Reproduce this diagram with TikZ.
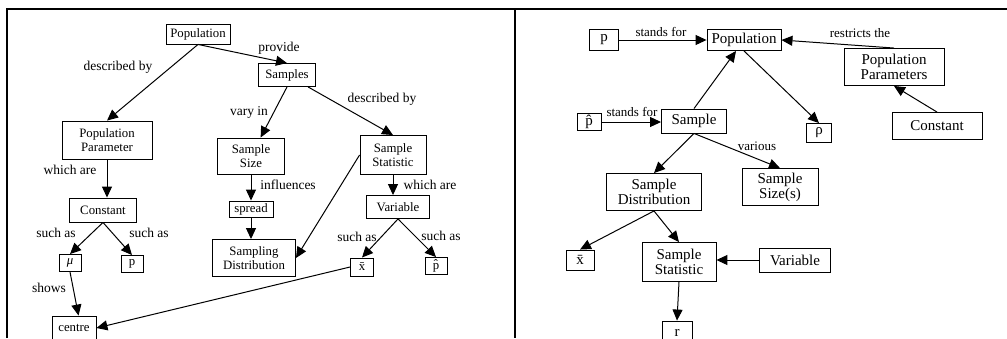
\documentclass[tikz,border=0pt]{standalone}
\usepackage{fontspec}
\setmainfont{Liberation Serif}
\usetikzlibrary{arrows.meta}
\tikzset{
  lbox/.style={draw, line width=0.9pt, inner sep=1pt, align=center, font=\fontsize{12.8}{14}\selectfont},
  rbox/.style={draw, line width=0.9pt, inner sep=1pt, align=center, font=\fontsize{15}{15}\selectfont},
  sz/.style 2 args={minimum width=#1pt, minimum height=#2pt},
  lbl/.style={inner sep=0pt, font=\fontsize{13.5}{14}\selectfont},
  rlbl/.style={inner sep=0pt, font=\fontsize{13}{14}\selectfont},
  arrow/.style={-{Triangle[length=11pt,width=10pt]}, line width=1pt},
  frame/.style={line width=2pt}
}
\begin{document}
\begin{tikzpicture}[x=1pt, y=-1pt]
  \useasboundingbox (0,0) rectangle (1007,338);
  \draw[frame] (7,338) -- (7,9) -- (1007,9);
  \draw[frame] (515,9) -- (515,338);

  % left map
  \node[lbox, sz={64}{20}] (lpop) at (198,34) {Population};
  \node[lbox, sz={57}{23}] (lsamples) at (287,75) {Samples};
  \node[lbox, sz={90}{38}] (lpopparam) at (107,140) {Population\\Parameter};
  \node[lbox, sz={67}{36}] (lsize) at (251,156) {Sample\\Size};
  \node[lbox, sz={66}{39}] (lstat) at (393,155) {Sample\\Statistic};
  \node[lbox, sz={67}{24}] (lconst) at (103,210) {Constant};
  \node[lbox, sz={44}{16}] (lspread) at (251,209) {spread};
  \node[lbox, sz={63}{23}] (lvar) at (398,207) {Variable};
  \node[lbox, sz={83}{37}] (lsampdist) at (254,258) {Sampling\\Distribution};
  \node[lbox, sz={22}{17}] (lmu) at (70,263) {\textit{μ}};
  \node[lbox, sz={22}{17}] (lp) at (132,264) {p};
  \node[lbox, sz={23}{18}] (lxbar) at (362,267) {\={x}};
  \node[lbox, sz={22}{17}] (lphat) at (436,266) {\^{p}};
  \node[lbox, sz={44}{24}] (lcentre) at (74,328) {centre};

  \node[lbl] (tdescr) at (118,67) {described by};
  \node[lbl] (tprov) at (279,48) {provide};
  \node[lbl] (tvary) at (249,112) {vary in};
  \node[lbl] (tdescs) at (382,99) {described by};
  \node[lbl] (twhich) at (70,170) {which are};
  \node[lbl] (tinfl) at (288,185) {influences};
  \node[lbl] (twhichv) at (430,185) {which are};
  \node[lbl] (tsuchmu) at (56,233) {such as};
  \node[lbl] (tsuchp) at (149,233) {such as};
  \node[lbl] (tsuchx) at (357,237) {such as};
  \node[lbl] (tsuchph) at (441,236) {such as};
  \node[lbl] (tshows) at (49,288) {shows};

  \draw[arrow] (lpop.south) -- (lsamples.north);
  \draw[arrow] (lpop.south) -- (lpopparam.north);
  \draw[arrow] (lsamples.south) -- (lsize);
  \draw[arrow] (lsamples) -- (lstat.north);
  \draw[arrow] (lpopparam.south) -- (lpopparam.south |- lconst.north);
  \draw[arrow] (lsize.south) -- (lsize.south |- lspread.north);
  \draw[arrow] (lspread.south) -- (lspread.south |- lsampdist.north);
  \draw[arrow] (lstat.west) -- (lsampdist.east);
  \draw[arrow] (lstat.south) -- (lstat.south |- lvar.north);
  \draw[arrow] (lvar.south) -- (lxbar.north);
  \draw[arrow] (lvar.south) -- (lphat.north);
  \draw[arrow] (lconst.south) -- (lmu.north);
  \draw[arrow] (lconst.south) -- (lp.north);
  \draw[arrow] (lmu.south) -- (lcentre.70);
  \draw[arrow] (lxbar.west) -- (lcentre.east);

  % right map
  \node[rbox, sz={29}{21}] (rp) at (604,40) {p};
  \node[rbox, sz={74}{21}] (rpop) at (744,40) {Population};
  \node[rbox, sz={24}{17}] (rphat) at (589,122) {\^{p}};
  \node[rbox, sz={65}{24}] (rsample) at (694,121) {Sample};
  \node[rbox, sz={100}{37}] (rparams) at (894,67) {Population\\Parameters};
  \node[rbox, sz={90}{27}] (rconst) at (937,126) {Constant};
  \node[rbox, sz={25}{19}] (rrho) at (819,133) {ρ};
  \node[rbox, sz={95}{37}] (rsampdist) at (654,192) {Sample\\Distribution};
  \node[rbox, sz={76}{37}] (rsize) at (780,187) {Sample\\Size(s)};
  \node[rbox, sz={28}{20}] (rxbar) at (580,260) {\={x}};
  \node[rbox, sz={74}{39}] (rstat) at (679,262) {Sample\\Statistic};
  \node[rbox, sz={71}{24}] (rvar) at (795,260) {Variable};
  \node[rbox, sz={30}{24}] (rr) at (677,333) {r};

  \node[rlbl] (tstands) at (661,32) {stands for};
  \node[rlbl] (tstandsh) at (632,112) {stands for};
  \node[rlbl] (trestr) at (860,33) {restricts the};
  \node[rlbl] (tvarious) at (757,146) {various};

  \draw[arrow] (rp.east) -- (rpop.west);
  \draw[arrow] (rphat.east) -- (rphat.east -| rsample.west);
  \draw[arrow] (rsample.north) -- (rpop);
  \draw[arrow] (rpop.south) -- (rrho.north);
  \draw[arrow] (rparams.north) -- (rpop.east);
  \draw[arrow] (rconst.north) -- (rparams.south);
  \draw[arrow] (rsample.south) -- (rsampdist.north);
  \draw[arrow] (rsample.south) -- (rsize.north);
  \draw[arrow] (rsampdist.south) -- (rxbar.north);
  \draw[arrow] (rsampdist.south) -- (rstat.north);
  \draw[arrow] (rvar.west) -- (rvar.west -| rstat.east);
  \draw[arrow] (rstat.south) -- (rr.north);
\end{tikzpicture}
\end{document}
